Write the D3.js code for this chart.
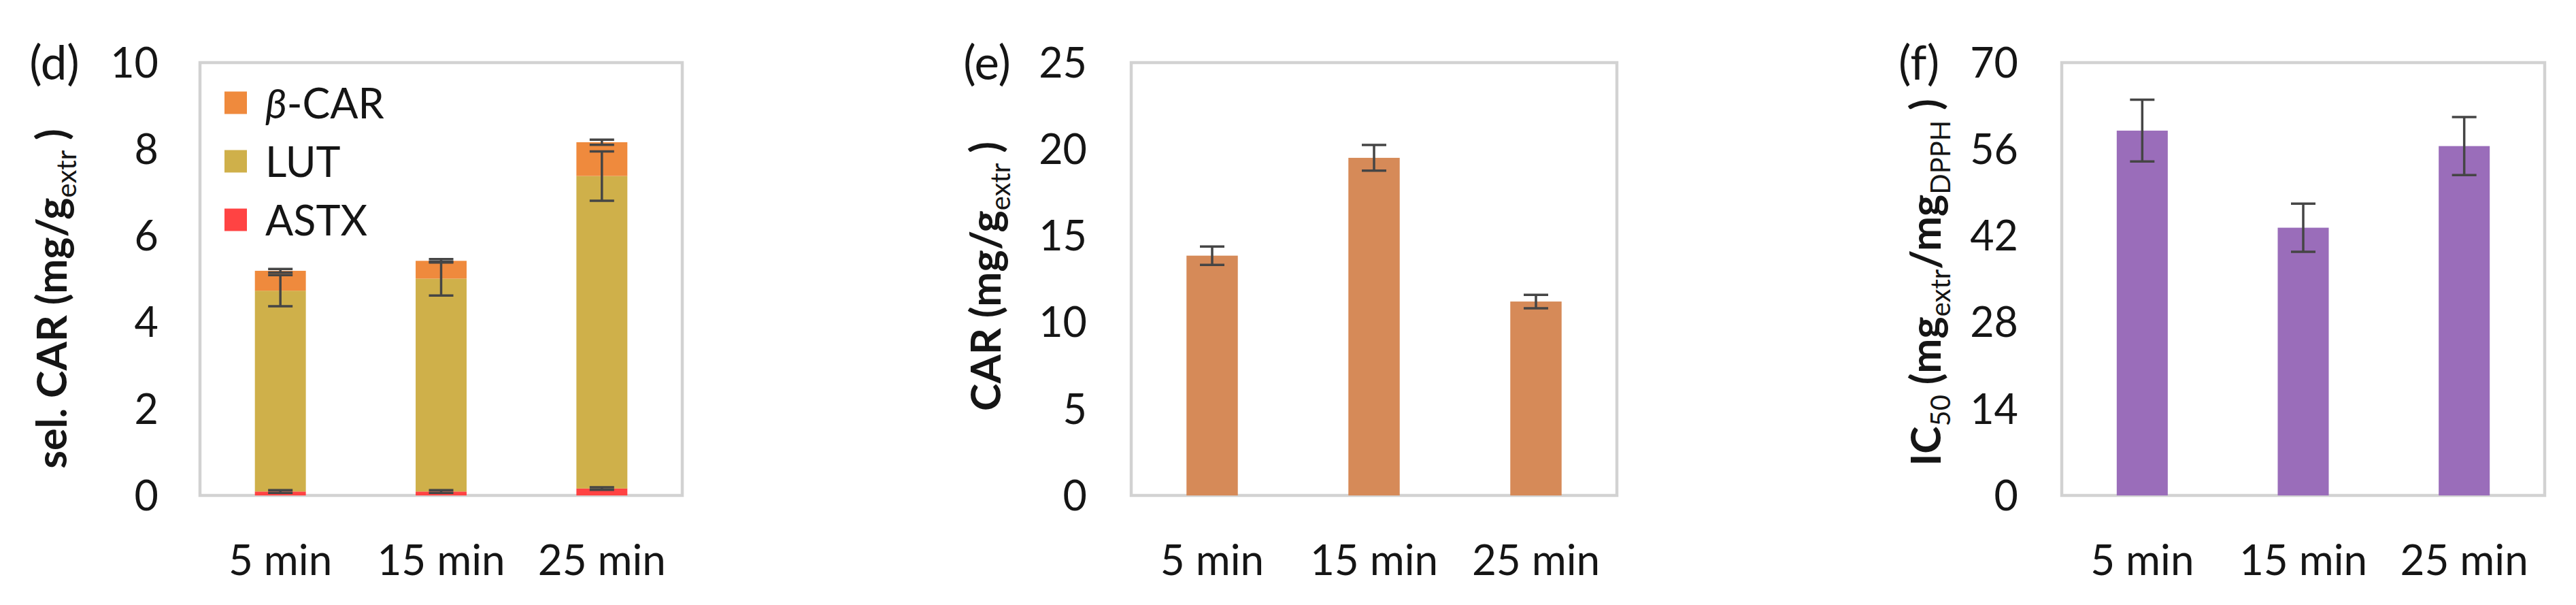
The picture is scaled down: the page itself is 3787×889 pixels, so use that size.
<!DOCTYPE html>
<html>
<head>
<meta charset="utf-8">
<script src="https://cdn.jsdelivr.net/npm/d3@7"></script>
<style>
  html, body { margin: 0; padding: 0; background: #ffffff; }
  svg text { font-family: Lato, "Open Sans", sans-serif; fill: #151515; }
</style>
</head>
<body>
<svg id="chart" width="3787" height="889"></svg>
<script>
// ---------- data ----------
const categories = ["5 min", "15 min", "25 min"];

// panel (d): selected carotenoids, stacked
const seriesKeys   = ["ASTX", "LUT", "BCAR"];
const astx         = [0.09, 0.09, 0.16];
const astxErr      = [0.03, 0.03, 0.03];
const lut          = [4.64, 4.92, 7.22];
const lutErr       = [0.36, 0.39, 0.57];
const bcar         = [0.46, 0.41, 0.78];
const bcarErr      = [0.04, 0.04, 0.06];
const dTicks       = [0, 2, 4, 6, 8, 10];

// panel (e): total carotenoids
const car          = [13.85, 19.5, 11.2];
const carErr       = [0.53, 0.74, 0.39];
const eTicks       = [0, 5, 10, 15, 20, 25];

// panel (f): IC50
const ic50         = [59.0, 43.3, 56.5];
const ic50Err      = [5.0, 3.9, 4.7];
const fTicks       = [0, 14, 28, 42, 56, 70];

// ---------- styles ----------
const colors = { ASTX: "#FF4343", LUT: "#CFB04A", BCAR: "#EF8A3D", CAR: "#D68A58", IC50: "#9A6DBA" };
const frameColor = "#D2D2D2";
const errColor = "#454545";

const svg = d3.select("#chart");
const plotTop = 92, plotBottom = 728;

function makePanel(opt) {
  const g = svg.append("g");
  const x = d3.scaleBand().domain(categories).range([opt.left, opt.right]).paddingInner(0.683).paddingOuter(0.3415);
  const y = d3.scaleLinear().domain([0, d3.max(opt.ticks)]).range([plotBottom, plotTop]);

  // frame
  g.append("rect").attr("x", opt.left).attr("y", plotTop)
    .attr("width", opt.right - opt.left).attr("height", plotBottom - plotTop)
    .attr("fill", "none").attr("stroke", frameColor).attr("stroke-width", 4.5);

  // y axis
  const ya = g.append("g").attr("transform", `translate(${opt.left},0)`)
    .call(d3.axisLeft(y).tickValues(opt.ticks).tickSize(0).tickPadding(opt.tickGap).tickFormat(d3.format("d")));
  ya.select(".domain").remove();
  ya.selectAll("text").style("font-size", "61px").attr("dy", "0.35em").attr("fill", "#151515");

  // x axis
  const xa = g.append("g").attr("transform", `translate(0,${plotBottom})`)
    .call(d3.axisBottom(x).tickSize(0).tickPadding(73));
  xa.select(".domain").remove();
  xa.selectAll("text").style("font-size", "62px").attr("fill", "#151515");

  // panel label
  g.append("text").attr("x", opt.labelX).attr("y", 117).attr("text-anchor", "middle")
    .style("font-size", "69px").text(opt.label);

  // y title (rotated, with subscripts)
  const t = g.append("text")
    .attr("transform", `translate(${opt.titleX},${opt.titleY}) rotate(-90)`)
    .attr("text-anchor", "middle").style("font-size", "61px").style("font-weight", "bold");
  opt.title.forEach(p => {
    const ts = t.append("tspan").text(p.t);
    if (p.sub) ts.style("font-size", "40px").style("font-weight", "normal").attr("dy", p.dy);
    else if (p.dy) ts.attr("dy", p.dy);
  });
  return { g, x, y };
}

function errorBars(g, x, y, centers, errs) {
  const cap = 18;
  categories.forEach((c, i) => {
    const cx = x(c) + x.bandwidth() / 2;
    const y1 = y(centers[i] + errs[i]), y0 = y(centers[i] - errs[i]);
    const p = d3.path();
    p.moveTo(cx, y1); p.lineTo(cx, y0);
    p.moveTo(cx - cap, y1); p.lineTo(cx + cap, y1);
    p.moveTo(cx - cap, y0); p.lineTo(cx + cap, y0);
    g.append("path").attr("d", p.toString()).attr("stroke", errColor)
      .attr("stroke-width", 3.5).attr("fill", "none");
  });
}

// ---------- panel (d) ----------
{
  const P = makePanel({
    left: 294, right: 1003, ticks: dTicks, tickGap: 61, label: "(d)", labelX: 80,
    titleX: 98, titleY: 439,
    title: [{ t: "sel. CAR (mg/g" }, { t: "extr", sub: true, dy: "14" }, { t: " )", dy: "-14" }]
  });
  const rows = categories.map((c, i) => ({ cat: c, ASTX: astx[i], LUT: lut[i], BCAR: bcar[i] }));
  const stacked = d3.stack().keys(seriesKeys)(rows);
  stacked.forEach(layer => {
    P.g.append("g").attr("fill", colors[layer.key]).selectAll("rect").data(layer).join("rect")
      .attr("x", d => P.x(d.data.cat)).attr("width", P.x.bandwidth())
      .attr("y", d => P.y(d[1])).attr("height", d => P.y(d[0]) - P.y(d[1]));
  });
  const errs = { ASTX: astxErr, LUT: lutErr, BCAR: bcarErr };
  stacked.forEach(layer => {
    errorBars(P.g, P.x, P.y, layer.map(d => d[1]), errs[layer.key]);
  });

  // legend
  const legendItems = [
    { key: "BCAR", parts: [{ t: "β", it: true }, { t: "-CAR" }], cy: 151 },
    { key: "LUT", parts: [{ t: "LUT" }], cy: 237 },
    { key: "ASTX", parts: [{ t: "ASTX" }], cy: 323 }
  ];
  const lg = P.g.append("g");
  legendItems.forEach(it => {
    lg.append("rect").attr("x", 330).attr("y", it.cy - 16.5).attr("width", 33).attr("height", 33)
      .attr("fill", colors[it.key]);
    const tx = lg.append("text").attr("x", 390).attr("y", it.cy + 23).style("font-size", "61px");
    it.parts.forEach(p => {
      const s = tx.append("tspan").text(p.t);
      if (p.it) s.style("font-style", "italic");
    });
  });
}

// ---------- panel (e) ----------
{
  const P = makePanel({
    left: 1663, right: 2377, ticks: eTicks, tickGap: 65, label: "(e)", labelX: 1451,
    titleX: 1471, titleY: 406,
    title: [{ t: "CAR (mg/g" }, { t: "extr", sub: true, dy: "14" }, { t: " )", dy: "-14" }]
  });
  P.g.append("g").attr("fill", colors.CAR).selectAll("rect").data(car).join("rect")
    .attr("x", (d, i) => P.x(categories[i])).attr("width", P.x.bandwidth())
    .attr("y", d => P.y(d)).attr("height", d => plotBottom - P.y(d));
  errorBars(P.g, P.x, P.y, car, carErr);
}

// ---------- panel (f) ----------
{
  const P = makePanel({
    left: 3031, right: 3741, ticks: fTicks, tickGap: 64, label: "(f)", labelX: 2821,
    titleX: 2853, titleY: 415,
    title: [
      { t: "IC" }, { t: "50", sub: true, dy: "14" },
      { t: " (mg", dy: "-14" }, { t: "extr", sub: true, dy: "14" },
      { t: "/mg", dy: "-14" }, { t: "DPPH", sub: true, dy: "14" },
      { t: " )", dy: "-14" }
    ]
  });
  P.g.append("g").attr("fill", colors.IC50).selectAll("rect").data(ic50).join("rect")
    .attr("x", (d, i) => P.x(categories[i])).attr("width", P.x.bandwidth())
    .attr("y", d => P.y(d)).attr("height", d => plotBottom - P.y(d));
  errorBars(P.g, P.x, P.y, ic50, ic50Err);
}
</script>
</body>
</html>
